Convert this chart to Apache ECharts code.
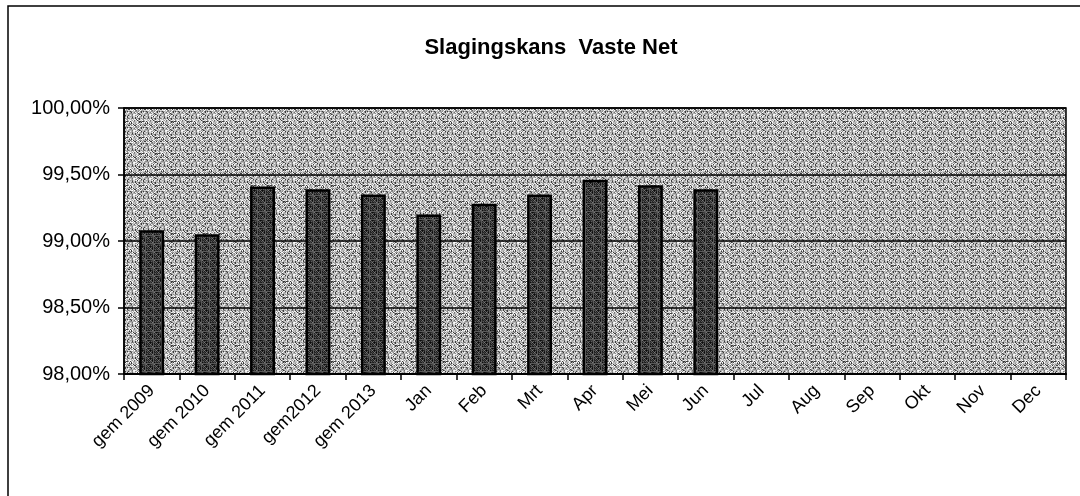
<!DOCTYPE html>
<html>
<head>
<meta charset="utf-8">
<script src="https://cdn.jsdelivr.net/npm/echarts@6/dist/echarts.min.js"></script>
<style>
  html, body { margin: 0; padding: 0; background: #fff; }
  #chart { width: 1080px; height: 496px; }
</style>
</head>
<body>
<div id="chart"></div>
<script>
var categories = ["gem 2009", "gem 2010", "gem 2011", "gem2012", "gem 2013",
  "Jan", "Feb", "Mrt", "Apr", "Mei", "Jun", "Jul", "Aug", "Sep", "Okt", "Nov", "Dec"];
var slagingskans = [99.08, 99.05, 99.41, 99.39, 99.35, 99.20, 99.28, 99.35, 99.46, 99.42, 99.39,
  null, null, null, null, null, null];
var yTicks = [98, 98.5, 99, 99.5, 100];

// grainy fill like the scanned excel texture
function makeTexture(levels) {
  var c = document.createElement("canvas");
  c.width = 16; c.height = 16;
  var ctx = c.getContext("2d");
  for (var y = 0; y < 16; y++) {
    for (var x = 0; x < 16; x++) {
      var h = (x * 73856093 ^ y * 19349663 ^ (x * y * 83492791)) >>> 0;
      var v = levels[h % levels.length];
      ctx.fillStyle = "rgb(" + v + "," + v + "," + v + ")";
      ctx.fillRect(x, y, 1, 1);
    }
  }
  return { image: c, repeat: "repeat" };
}

var chartDom = document.getElementById("chart");
var myChart = echarts.init(chartDom);
var option;

option = {
  backgroundColor: "#ffffff",
  animation: false,
  title: {
    text: "Slagingskans  Vaste Net",
    left: 546,
    textAlign: "center",
    top: 32,
    textStyle: { fontFamily: "Arial, 'Liberation Sans'", fontSize: 22, fontWeight: "bold", color: "#000" }
  },
  graphic: [{
    type: "polyline",
    shape: { points: [[8, 496], [8, 6], [1080, 6]] },
    style: { stroke: "#000", lineWidth: 1.5, fill: null },
    silent: true
  }],
  grid: {
    left: 124, right: 14, top: 108, bottom: 122,
    show: true,
    backgroundColor: makeTexture([255, 240, 220, 200, 190, 175, 160, 140, 110, 60]),
    borderColor: "#000", borderWidth: 1.5
  },
  xAxis: {
    type: "category",
    data: categories,
    axisLine: { lineStyle: { color: "#000", width: 2 } },
    axisTick: { show: true, length: 6, lineStyle: { color: "#000", width: 1.5 } },
    axisLabel: {
      rotate: 45, interval: 0, margin: 14,
      fontFamily: "Arial, 'Liberation Sans'", fontSize: 18, color: "#000"
    }
  },
  yAxis: {
    type: "value",
    min: yTicks[0], max: yTicks[yTicks.length - 1], interval: 0.5,
    axisLine: { show: true, lineStyle: { color: "#000", width: 1.5 } },
    axisTick: { show: true, length: 6, lineStyle: { color: "#000", width: 1.5 } },
    splitLine: { show: true, lineStyle: { color: "#000", width: 1.5 } },
    axisLabel: {
      margin: 14,
      fontFamily: "Arial, 'Liberation Sans'", fontSize: 20, color: "#000",
      formatter: function (v) { return v.toFixed(2).replace(".", ",") + "%"; }
    }
  },
  series: [{
    type: "bar",
    data: slagingskans,
    barWidth: "45%",
    itemStyle: {
      color: makeTexture([10, 25, 40, 55, 70, 90, 120, 35]),
      borderColor: "#000", borderWidth: 2.5
    }
  }]
};

option && myChart.setOption(option);
</script>
</body>
</html>
